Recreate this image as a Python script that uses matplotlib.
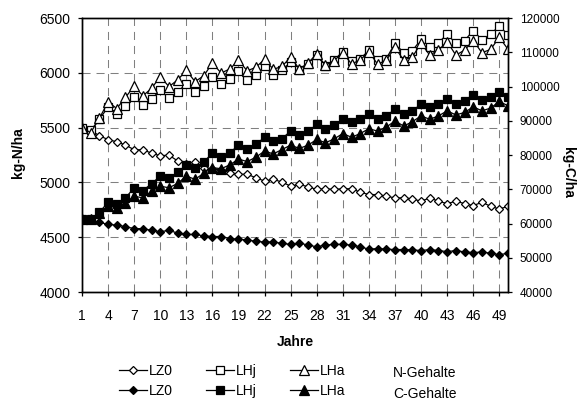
import matplotlib
matplotlib.use("Agg")
import matplotlib.pyplot as plt
from matplotlib.lines import Line2D

plt.rcParams['font.family'] = ['Liberation Sans', 'DejaVu Sans']
plt.rcParams['lines.scale_dashes'] = False

jahre = list(range(1, 51))
xticks = list(range(1, 50, 3))

# N-Gehalte (kg-N/ha)
n_lz0 = [5500, 5473, 5427, 5390, 5371, 5341, 5298, 5298, 5267, 5243,
         5249, 5196, 5166, 5187, 5135, 5126, 5114, 5089, 5074, 5074,
         5043, 5012, 5028, 5003, 4966, 4982, 4960, 4936, 4942, 4936,
         4942, 4942, 4911, 4889, 4889, 4874, 4859, 4859, 4850, 4828,
         4859, 4828, 4807, 4828, 4807, 4788, 4819, 4782, 4757, 4782]
n_lhj = [5500, 5475, 5575, 5689, 5628, 5695, 5781, 5704, 5760, 5843,
         5766, 5828, 5898, 5828, 5880, 5966, 5895, 5945, 6012, 5937,
         5983, 6060, 5978, 6025, 6098, 6030, 6080, 6160, 6060, 6118,
         6193, 6110, 6128, 6205, 6115, 6130, 6269, 6183, 6201, 6306,
         6238, 6275, 6352, 6269, 6294, 6386, 6300, 6352, 6429, 6346]
n_lha = [5500, 5454, 5585, 5735, 5674, 5775, 5880, 5790, 5858, 5966,
         5874, 5935, 6022, 5920, 5972, 6089, 5998, 6035, 6114, 6018,
         6050, 6124, 6032, 6058, 6144, 6034, 6090, 6172, 6068, 6112,
         6185, 6080, 6118, 6192, 6078, 6115, 6232, 6115, 6146, 6269,
         6161, 6207, 6284, 6161, 6207, 6294, 6183, 6214, 6324, 6214]

# C-Gehalte (kg-C/ha)
c_lz0 = [61300, 61100, 60300, 59800, 59500, 59100, 58500, 58500, 58000, 57600,
         58000, 57200, 56800, 56800, 56400, 56200, 56200, 55600, 55400, 55200,
         54800, 54600, 54600, 54200, 53900, 54300, 53700, 53200, 53700, 53900,
         53900, 53700, 53200, 52500, 52700, 52500, 52400, 52400, 52300, 52100,
         52400, 52100, 51800, 52100, 51700, 51500, 51700, 51300, 50900, 51300]
c_lhj = [61280, 61280, 63260, 66210, 65820, 67490, 70430, 69630, 71620, 73860,
         73180, 75040, 77020, 76320, 77980, 80540, 79360, 80640, 82880, 81820,
         83200, 85120, 84060, 84800, 86980, 85820, 86880, 88960, 87680, 88770,
         90560, 89600, 90430, 92000, 90430, 91420, 93380, 91900, 92900, 94880,
         93890, 94880, 96350, 94880, 95870, 97630, 96060, 96830, 98300, 96830]
c_lha = [61280, 61280, 63040, 65220, 64540, 66020, 67970, 67490, 69440, 70910,
         70430, 71710, 73860, 72900, 74660, 76320, 76000, 77120, 78820, 78080,
         79360, 81150, 80320, 81600, 82880, 81920, 82880, 84540, 83580, 84700,
         86270, 85180, 86270, 87680, 86980, 88160, 89950, 88450, 89730, 91420,
         90430, 91420, 92900, 91710, 92420, 94080, 92900, 93700, 95650, 94370]

fig = plt.figure(figsize=(5.84, 4.03), dpi=100)
ax = fig.add_axes([0.1404, 0.2754, 0.7295, 0.6799])
ax2 = ax.twinx()

lw = 0.9
sty = dict(color='black', lw=lw, mec='black', mew=0.9)

# N on the left axis, open markers
h_n1, = ax.plot(jahre, n_lz0, marker='D', ms=4.2, mfc='white', **sty)
h_n2, = ax.plot(jahre, n_lhj, marker='s', ms=5.8, mfc='white', **sty)
h_n3, = ax.plot(jahre, n_lha, marker='^', ms=6.8, mfc='white', **sty)

# C on the right axis, filled markers
h_c1, = ax2.plot(jahre, c_lz0, marker='D', ms=4.2, mfc='black', **sty)
h_c2, = ax2.plot(jahre, c_lhj, marker='s', ms=5.8, mfc='black', **sty)
h_c3, = ax2.plot(jahre, c_lha, marker='^', ms=6.8, mfc='black', **sty)

ax.set_xlim(1, 50)
ax.set_ylim(4000, 6500)
ax2.set_ylim(40000, 120000)

ax.set_xticks(xticks)
ax.set_xticklabels([str(t) for t in xticks])
ax.set_yticks(range(4000, 6501, 500))
ax2.set_yticks(range(40000, 120001, 10000))

ax.grid(True, color='#808080', linestyle=(0, (5.8, 4.3)), linewidth=0.75)
ax.set_axisbelow(True)

for a in (ax, ax2):
    for s in a.spines.values():
        s.set_color('black')
        s.set_linewidth(1.0)

ax.tick_params(axis='x', direction='out', length=3, width=0.9, pad=9, labelsize=10)
ax.tick_params(axis='y', direction='out', length=3, width=0.9, pad=5.5, labelsize=10)
ax2.tick_params(axis='y', direction='out', length=3, width=0.9, pad=5.5, labelsize=8.5)

ax.set_xlabel('Jahre', fontsize=10, fontweight='bold', labelpad=9)
fig.text(18 / 584, 1 - 153 / 403, 'kg-N/ha', rotation=90, ha='center', va='center',
         fontsize=10, fontweight='bold')
fig.text(568 / 584, 1 - 172 / 403, 'kg-C/ha', rotation=270, ha='center', va='center',
         fontsize=10, fontweight='bold')

handles = [h_n1, h_c1, h_n2, h_c2, h_n3, h_c3]
labels = ['LZ0', 'LZ0', 'LHj', 'LHj', 'LHa', 'LHa']
fig.legend(handles, labels, ncol=3, loc='upper left',
           bbox_to_anchor=(119 / 584, 1 - 364 / 403), frameon=False,
           borderpad=0, borderaxespad=0, handlelength=2.0, handletextpad=0.15,
           columnspacing=2.4, labelspacing=0.45, fontsize=10)
fig.text(393 / 584, 1 - 373 / 403, 'N-Gehalte', ha='left', va='center', fontsize=10)
fig.text(393 / 584, 1 - 394 / 403, 'C-Gehalte', ha='left', va='center', fontsize=10)

fig.savefig('out.png', dpi=100)
